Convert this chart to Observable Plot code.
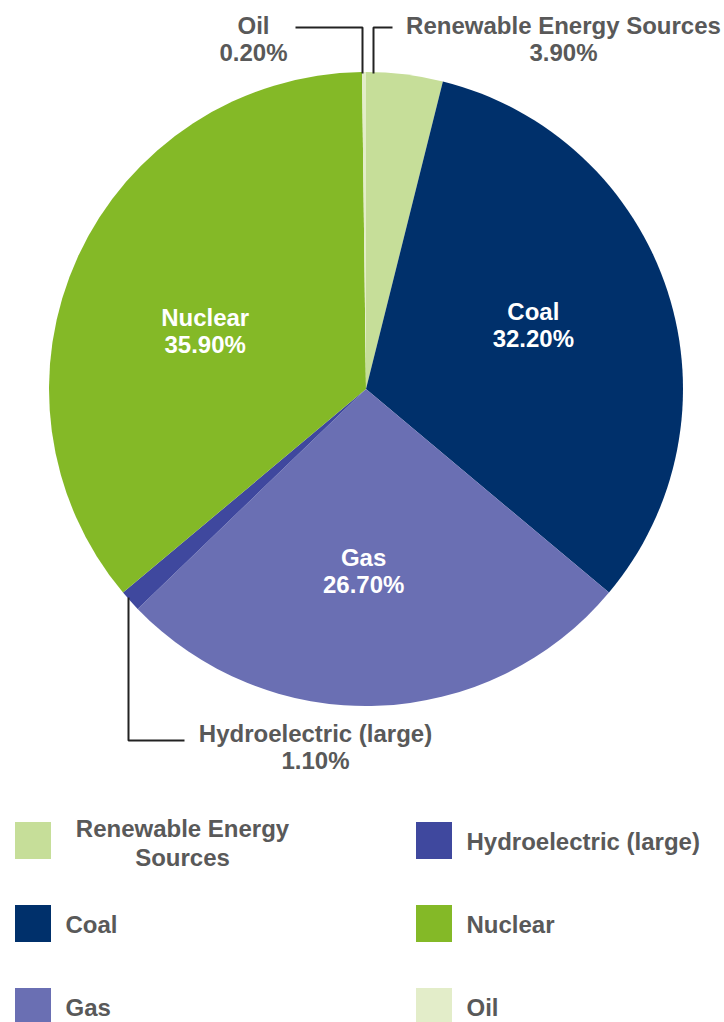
<!DOCTYPE html>
<html><head><meta charset="utf-8">
<script src="https://cdn.jsdelivr.net/npm/d3@7"></script>
<script src="https://cdn.jsdelivr.net/npm/@observablehq/plot@0.6"></script>
<style>html,body{margin:0;padding:0;background:#fff}</style>
</head><body><div id="chart"></div>
<script>
// ---- data ----
const categories = ["Renewable Energy Sources", "Coal", "Gas", "Hydroelectric (large)", "Nuclear", "Oil"];
const shares = [3.9, 32.2, 26.7, 1.1, 35.9, 0.2];
const colors = ["#c6de99", "#00306b", "#6a6fb3", "#3f489e", "#84b927", "#e3edc9"];
const legendLabels = ["Renewable Energy\nSources", "Coal", "Gas", "Hydroelectric (large)", "Nuclear", "Oil"];

// ---- layout ----
const W = 724, H = 1022;
const cx = 366, cy = 389, R = 317;
const labelR = 0.56 * R;
const textColor = "#595959";
const fs = 24;
const lh = 1.14;
const font = "'Liberation Sans', Arial, Helvetica, sans-serif";
const labelNudge = {"Coal": [-2, -10], "Gas": [-9, 4], "Nuclear": [0, 15]};
const callouts = {
  "Oil": {at: [253, 38], path: [[295, 27], [362, 27], [362, 73]]},
  "Renewable Energy Sources": {at: [563, 38], path: [[392, 27], [373, 27], [373, 73]]},
  "Hydroelectric (large)": {at: [315, 746], path: [[128, 597], [128, 740], [184, 740]]}
};

const data = categories.map((c, i) => ({
  category: c, share: shares[i], color: colors[i],
  pct: shares[i].toFixed(2) + "%", legend: legendLabels[i], i
}));
const arcs = d3.pie().sort(null).value(d => d.share).startAngle(0).endAngle(2 * Math.PI)(data);
const arcGen = d3.arc().innerRadius(0).outerRadius(R);
const labelArc = d3.arc().innerRadius(labelR).outerRadius(labelR);

const inner = arcs.filter(a => !callouts[a.data.category]).map(a => {
  const [x, y] = labelArc.centroid(a);
  const [nx, ny] = labelNudge[a.data.category] || [0, 0];
  return {x: cx + x + nx, y: cy + y + ny, text: a.data.category + "\n" + a.data.pct};
});
const outer = arcs.filter(a => callouts[a.data.category]).map(a => ({
  x: callouts[a.data.category].at[0], y: callouts[a.data.category].at[1],
  text: a.data.category + "\n" + a.data.pct
}));
const leaders = arcs.filter(a => callouts[a.data.category]).flatMap(a =>
  callouts[a.data.category].path.map(([x, y]) => ({x, y, k: a.data.category})));

const legend = data.map(d => {
  const col = Math.floor(d.i / 3), row = d.i % 3;
  const x0 = 15 + col * 401, y0 = 822 + row * 83;
  return {...d, x1: x0, x2: x0 + 36, y1: y0, y2: y0 + 37,
          tx: d.legend.includes("\n") ? x0 + 167 : x0 + 50, ty: y0 + 20};
});

function pieMark() {
  return (index, scales, values, dims) => {
    const g = d3.create("svg:g").attr("transform", `translate(${cx},${cy})`);
    g.selectAll("path").data(arcs).join("path")
      .attr("d", arcGen).attr("fill", a => a.data.color);
    return g.node();
  };
}

const chart = Plot.plot({
  width: W, height: H, margin: 0,
  x: {type: "identity", axis: null}, y: {type: "identity", axis: null},
  style: {fontFamily: font, background: "#fff"},
  marks: [
    pieMark(),
    Plot.line(leaders, {x: "x", y: "y", z: "k", stroke: "#222", strokeWidth: 2, strokeLinejoin: "miter", strokeLinecap: "butt"}),
    Plot.text(inner, {x: "x", y: "y", text: "text", fill: "#fff", fontSize: fs, fontWeight: "bold", lineHeight: lh, textAnchor: "middle"}),
    Plot.text(outer, {x: "x", y: "y", text: "text", fill: textColor, fontSize: fs, fontWeight: "bold", lineHeight: lh, textAnchor: "middle"}),
    Plot.rect(legend, {x1: "x1", x2: "x2", y1: "y1", y2: "y2", fill: "color"}),
    Plot.text(legend.filter(d => !d.legend.includes("\n")), {x: "tx", y: "ty", text: "legend", fill: textColor, fontSize: fs, fontWeight: "bold", textAnchor: "start"}),
    Plot.text(legend.filter(d => d.legend.includes("\n")), {x: "tx", y: "ty", text: "legend", fill: textColor, fontSize: fs, fontWeight: "bold", lineHeight: 1.17, textAnchor: "middle"})
  ]
});
document.getElementById("chart").appendChild(chart);
</script>
</body></html>
